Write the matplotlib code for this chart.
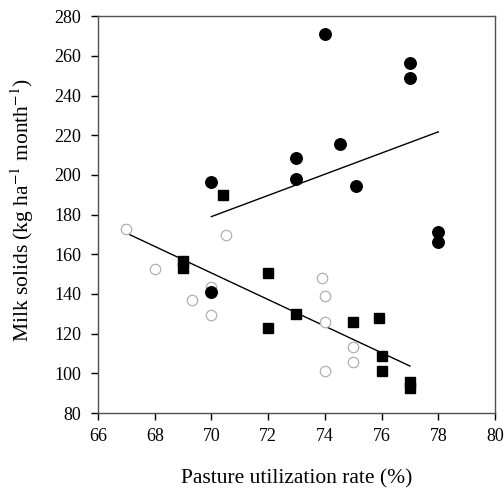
import matplotlib
matplotlib.use("Agg")
import matplotlib.pyplot as plt

# Filled circles
fc_x = [70, 73, 73, 75.1, 78, 78, 70, 74, 77, 77, 74.55]
fc_y = [196.5, 208.5, 198, 194.5, 171, 166, 141, 271, 256.5, 249, 215.7]

# Filled squares
sq_x = [70.4, 69, 69, 72, 72, 73, 75, 75.9, 76, 76, 77, 77]
sq_y = [190, 156.5, 153, 150.7, 123, 130, 126, 127.7, 109, 101, 95.8, 92.5]

# Open circles
oc_x = [67, 68, 69.3, 70, 70, 70.5, 73.9, 74, 74, 74, 75, 75]
oc_y = [173, 152.5, 137, 143.5, 129.5, 169.5, 148, 139, 126, 101, 113.5, 105.5]

# Fitted lines (endpoints)
up_x = [70, 78]
up_y = [179, 221.7]
low_x = [67, 77]
low_y = [170.7, 103.7]

plt.rcParams['font.family'] = ['Liberation Serif', 'DejaVu Serif']
plt.rcParams['mathtext.fontset'] = 'stix'

fig = plt.figure(figsize=(5.04, 4.90), dpi=100)
ax = fig.add_axes([0.1944, 0.157, 0.7877, 0.81])

ax.plot(up_x, up_y, color='black', lw=1.0, zorder=1)
ax.plot(low_x, low_y, color='black', lw=1.0, zorder=1)
ax.plot(oc_x, oc_y, 'o', ms=7.5, mfc='white', mec='#b0b0b0', mew=0.9, zorder=2)
ax.plot(fc_x, fc_y, 'o', ms=8.3, color='black', zorder=3)
ax.plot(sq_x, sq_y, 's', ms=7, color='black', zorder=3)

ax.set_xlim(66, 80)
ax.set_ylim(80, 280)
ax.set_xticks(range(66, 81, 2))
ax.set_yticks(range(80, 281, 20))
ax.tick_params(direction='out', length=5, width=1, labelsize=13, colors='black')
ax.tick_params(axis='y', pad=7)
ax.tick_params(axis='x', pad=6)
for s in ax.spines.values():
    s.set_color('#505050')
    s.set_linewidth(1)

ax.set_xlabel("Pasture utilization rate (%)", fontsize=15.5, labelpad=17)
ax.set_ylabel("Milk solids (kg ha$^{-1}$ month$^{-1}$)", fontsize=15.5)
ax.yaxis.set_label_coords(-0.155, 0.512)

fig.savefig("out.png", dpi=100)
